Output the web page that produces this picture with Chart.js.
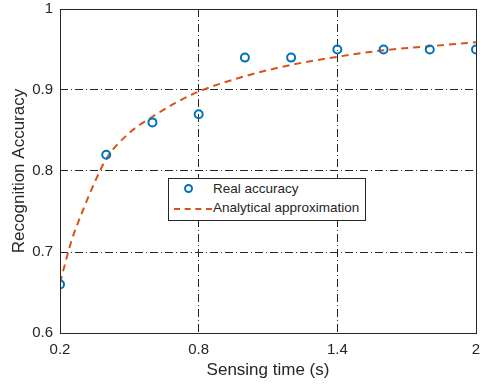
<!DOCTYPE html>
<html>
<head>
<meta charset="utf-8">
<script src="https://cdn.jsdelivr.net/npm/chart.js@4"></script>
<style>
  html, body { margin: 0; padding: 0; background: #fff; }
  #wrap { position: relative; width: 482px; height: 386px; }
  #legend {
    position: absolute; left: 168px; top: 178px; width: 196px; height: 41px;
    border: 1px solid #262626; background: #fff;
    font-family: "Liberation Sans", Arial, sans-serif; font-size: 13.5px; color: #262626;
  }
  #legend .row { position: absolute; left: 0; height: 18px; line-height: 18px; white-space: nowrap; }
  #legend .txt { position: absolute; left: 44px; }
  .mk { position: absolute; left: 15px; top: 4px; width: 5px; height: 5px; border: 2px solid #0072BD; border-radius: 50%; }
  .dl { position: absolute; left: 5px; top: 9px; width: 38px; height: 0; border-top: 2px dashed #D95319; }
</style>
</head>
<body>
<div id="wrap">
  <canvas id="c" width="482" height="386"></canvas>
  <div id="legend">
    <div class="row" style="top:1px;width:196px"><span class="mk"></span><span class="txt">Real accuracy</span></div>
    <div class="row" style="top:20px;width:196px"><span class="dl"></span><span class="txt">Analytical approximation</span></div>
  </div>
</div>
<script>
// measured accuracy
var realX = [0.2, 0.4, 0.6, 0.8, 1.0, 1.2, 1.4, 1.6, 1.8, 2.0];
var realY = [0.66, 0.82, 0.86, 0.87, 0.94, 0.94, 0.95, 0.95, 0.95, 0.95];
// approximation curve
var approxX = [0.2, 0.25, 0.3, 0.35, 0.4, 0.5, 0.6, 0.7, 0.8, 1.0, 1.2, 1.4, 1.6, 1.8, 2.0];
var approxY = [0.662, 0.714, 0.752, 0.786, 0.815, 0.847, 0.867, 0.884, 0.898, 0.917, 0.931, 0.941, 0.949, 0.954, 0.959];
var xTicks = [0.2, 0.8, 1.4, 2];
var yTicks = [0.6, 0.7, 0.8, 0.9, 1];

var font = "'Liberation Sans', Arial, sans-serif";
var txtColor = '#262626';

function gridCol(ctx) {
  var t = ctx.tick ? ctx.tick.value : null;
  if (t === null) return 'rgba(0,0,0,0)';
  var s = ctx.scale;
  if (Math.abs(t - s.min) < 1e-6 || Math.abs(t - s.max) < 1e-6) return 'rgba(0,0,0,0)';
  return '#262626';
}

const boxPlugin = {
  id: 'box',
  afterDraw(chart) {
    var a = chart.chartArea, c = chart.ctx;
    c.save();
    c.strokeStyle = '#262626';
    c.lineWidth = 1;
    c.strokeRect(Math.round(a.left) + 0.5, Math.round(a.top) + 0.5, Math.round(a.right - a.left), Math.round(a.bottom - a.top));
    c.restore();
  }
};

new Chart(document.getElementById('c'), {
  type: 'scatter',
  data: {
    datasets: [{
      label: 'Analytical approximation',
      data: approxX.map((x, i) => ({x: x, y: approxY[i]})),
      showLine: true,
      borderColor: '#D95319',
      borderWidth: 2,
      borderDash: [7, 5],
      pointRadius: 0,
      cubicInterpolationMode: 'monotone',
      fill: false,
      order: 2
    }, {
      label: 'Real accuracy',
      data: realX.map((x, i) => ({x: x, y: realY[i]})),
      showLine: false,
      pointRadius: 4,
      pointBorderWidth: 2,
      pointBorderColor: '#0072BD',
      pointBackgroundColor: 'rgba(0,0,0,0)',
      order: 1
    }]
  },
  options: {
    responsive: false,
    animation: false,
    layout: { padding: { top: 9, right: 6, left: 0, bottom: 0 } },
    plugins: { legend: { display: false }, tooltip: { enabled: false } },
    scales: {
      x: {
        type: 'linear', min: 0.2, max: 2,
        afterBuildTicks: s => { s.ticks = xTicks.map(v => ({value: v})); },
        afterFit: s => { s.height = 53; s.paddingLeft = 0; s.paddingRight = 0; },
        ticks: { color: txtColor, font: { family: font, size: 15 }, padding: 8, maxRotation: 0,
                 callback: v => String(+v.toFixed(1)) },
        grid: { color: gridCol, lineWidth: 1, tickLength: 0, drawTicks: false },
        border: { display: false, dash: [8, 3, 1, 3] },
        title: { display: true, text: 'Sensing time (s)', color: txtColor, font: { family: font, size: 17 }, padding: { top: 0, bottom: 5 } }
      },
      y: {
        type: 'linear', min: 0.6, max: 1,
        afterBuildTicks: s => { s.ticks = yTicks.map(v => ({value: v})); },
        afterFit: s => { s.width = 60; s.paddingTop = 0; s.paddingBottom = 0; },
        ticks: { color: txtColor, font: { family: font, size: 15 }, padding: 7,
                 callback: v => String(+v.toFixed(1)) },
        grid: { color: gridCol, lineWidth: 1, tickLength: 0, drawTicks: false },
        border: { display: false, dash: [8, 3, 1, 3] },
        title: { display: true, text: 'Recognition Accuracy', color: txtColor, font: { family: font, size: 17 }, padding: { top: 9, bottom: 0 } }
      }
    }
  },
  plugins: [boxPlugin]
});
</script>
</body>
</html>
